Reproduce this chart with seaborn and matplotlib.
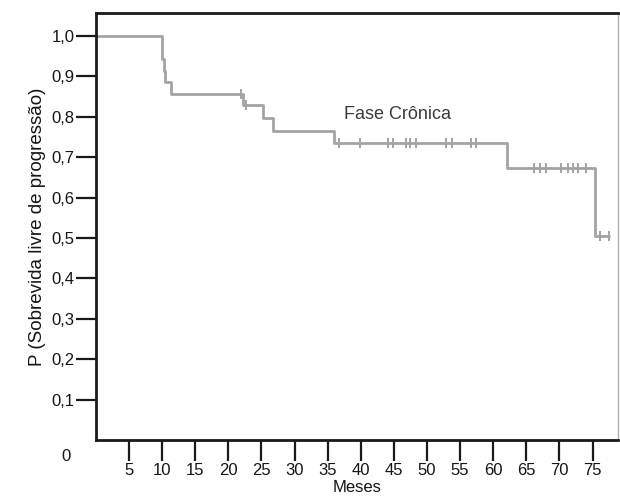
import numpy as np
import pandas as pd
import matplotlib
matplotlib.use("Agg")
import matplotlib.pyplot as plt
import seaborn as sns

# Kaplan-Meier steps (month of change, survival level after it)
step_months = [0.0, 10.0, 10.2, 10.45, 11.35, 22.2, 25.2, 26.7, 36.0, 62.1, 75.4, 77.5]
step_surv = [1.0, 0.943, 0.914, 0.886, 0.857, 0.828, 0.797, 0.766, 0.735, 0.674, 0.506, 0.506]

# censored observations (months)
censor_months = [21.9, 22.7, 36.7, 39.9, 44.1, 44.8, 46.9, 47.5, 48.4, 52.9, 53.7,
                 56.7, 57.4, 66.2, 67.1, 68.0, 70.3, 71.3, 72.0, 72.8, 74.0, 76.2, 77.5]

x_ticks = [5, 10, 15, 20, 25, 30, 35, 40, 45, 50, 55, 60, 65, 70, 75]
y_ticks = [0.1, 0.2, 0.3, 0.4, 0.5, 0.6, 0.7, 0.8, 0.9, 1.0]
y_tick_labels = ["0,1", "0,2", "0,3", "0,4", "0,5", "0,6", "0,7", "0,8", "0,9", "1,0"]

curve_label = "Fase Crônica"
x_title = "Meses"
y_title = "P (Sobrevida livre de progressão)"

sns.set_style("ticks")
plt.rcParams["font.family"] = ["Liberation Sans", "DejaVu Sans"]

line_color = "#a3a3a3"
text_color = "#151515"

fig = plt.figure(figsize=(6.2, 4.96), dpi=100)
ax = fig.add_axes([0.1548, 0.1129, 0.842, 0.861])

curve = pd.DataFrame({"mes": step_months, "p": step_surv})
sns.lineplot(data=curve, x="mes", y="p", drawstyle="steps-post", estimator=None,
             sort=False, color=line_color, linewidth=2.0, ax=ax)

# censor marks sit on the survival curve
idx = np.searchsorted(step_months, censor_months, side="right") - 1
censor_df = pd.DataFrame({"mes": censor_months, "p": np.array(step_surv)[idx]})
sns.scatterplot(data=censor_df, x="mes", y="p", marker="|", s=60, linewidth=1.4,
                color=line_color, ax=ax, zorder=3)

ax.set_xlim(0, 78.85)
ax.set_ylim(0, 1.057)

ax.set_xticks(x_ticks)
ax.set_xticklabels([str(t) for t in x_ticks], fontsize=12, color=text_color)
ax.set_yticks(y_ticks)
ax.set_yticklabels(y_tick_labels, fontsize=12, color=text_color)
ax.tick_params(axis="x", bottom=True, direction="out", length=15, width=1.6,
               color="#1a1a1a", pad=1.5)
ax.tick_params(axis="y", left=True, direction="out", length=14.5, width=1.6,
               color="#1a1a1a", pad=1)

ax.text(-4.6, -0.04, "0", ha="center", va="center", fontsize=12, color=text_color)

ax.set_xlabel(x_title, fontsize=12, color=text_color, labelpad=1.5)
ax.set_ylabel(y_title, fontsize=13.5, color=text_color, labelpad=4)

ax.text(37.5, 0.805, curve_label, fontsize=13, color="#3a3a3a", ha="left", va="center")

for side in ["left", "bottom", "top"]:
    ax.spines[side].set_color("#1a1a1a")
    ax.spines[side].set_linewidth(2.0)
ax.spines["right"].set_color("#b0b0b0")
ax.spines["right"].set_linewidth(1.0)

fig.savefig("out.png", dpi=100, facecolor="white")
